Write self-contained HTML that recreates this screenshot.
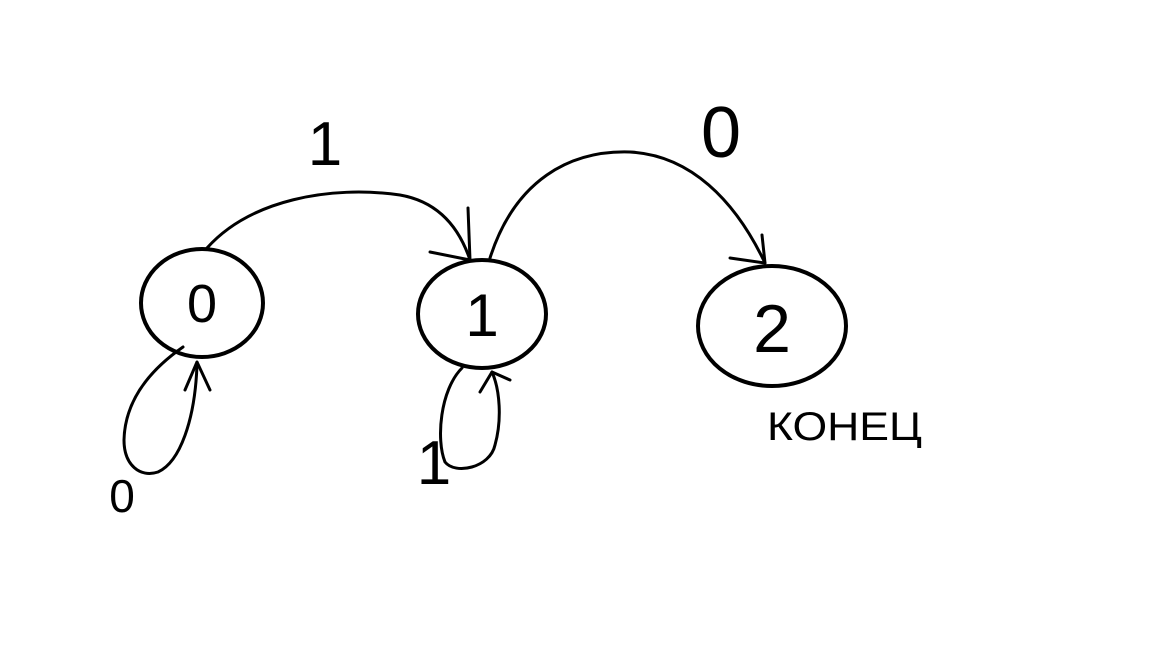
<!DOCTYPE html>
<html><head><meta charset="utf-8"><style>
html,body{margin:0;padding:0;background:#fff;}
svg{display:block;}
text{font-family:"Liberation Sans","DejaVu Sans",sans-serif;fill:#000;}
</style></head><body>
<svg width="1152" height="648" viewBox="0 0 1152 648">
<g fill="none" stroke="#000" stroke-width="3" stroke-linecap="round" stroke-linejoin="round">
  <ellipse cx="202" cy="303" rx="61" ry="54" stroke-width="4"/>
  <ellipse cx="482" cy="314" rx="64" ry="54" stroke-width="4"/>
  <ellipse cx="772" cy="326" rx="74" ry="60" stroke-width="4"/>
  <g>
    <path d="M207,248 C250,200 330,185 400,195 C440,202 460,230 470,260"/>
    <path d="M470,260 L468,208 M470,260 L430,252"/>
  </g>
  <g>
    <path d="M490,258 C515,180 570,150 630,152 C690,155 735,200 765,263"/>
    <path d="M765,263 L762,235 M765,263 L730,258"/>
  </g>
  <g>
    <path d="M183,347 C150,370 125,400 124,440 C124,465 140,478 158,472 C180,462 195,420 197,365"/>
    <path d="M197,362 L185,390 M197,362 L210,390"/>
  </g>
  <g>
    <path d="M462,368 C440,390 436,440 445,462 C455,475 490,468 495,445 C502,420 500,390 492,372"/>
    <path d="M492,372 L480,392 M492,372 L510,380"/>
  </g>
</g>
<text x="202" y="322" font-size="54" text-anchor="middle">0</text>
<text x="482" y="336" font-size="60" text-anchor="middle">1</text>
<text x="772" y="352" font-size="68" text-anchor="middle">2</text>
<text x="325" y="165" font-size="62" text-anchor="middle">1</text>
<text x="721" y="157" font-size="72" text-anchor="middle">0</text>
<text x="122" y="512" font-size="46" text-anchor="middle">0</text>
<text x="434" y="484" font-size="62" text-anchor="middle">1</text>
<text x="767" y="440" font-size="40" textLength="155" lengthAdjust="spacingAndGlyphs">КОНЕЦ</text>
</svg>
</body></html>
